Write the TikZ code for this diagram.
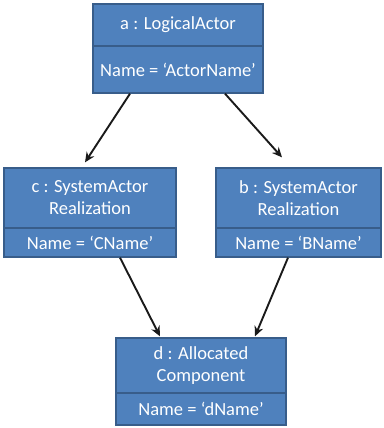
\documentclass[tikz,border=0pt]{standalone}
\usepackage{fontspec}
\setmainfont{Carlito}
\usetikzlibrary{arrows.meta}
\definecolor{boxfill}{HTML}{4F81BD}
\definecolor{boxline}{HTML}{385D8A}
\definecolor{linkcol}{HTML}{1A1A1A}
\begin{document}
\begin{tikzpicture}[x=1pt,y=-1pt,
  umlbox/.style={draw=boxline, fill=boxfill, line width=1.3pt, inner sep=0pt},
  divider/.style={draw=boxline, line width=1.3pt},
  boxtext/.style={text=white, font=\fontsize{18.5}{22}\selectfont, align=center, inner sep=0pt},
  link/.style={draw=linkcol, line width=1.9pt, -{Stealth[length=10pt,width=9pt]}}]
\useasboundingbox (0,0) rectangle (383,428);

% object boxes
\node[umlbox, minimum width=170pt, minimum height=89pt] (a) at (178,48.5) {};
\node[umlbox, minimum width=172pt, minimum height=89pt] (c) at (90,212.5) {};
\node[umlbox, minimum width=165pt, minimum height=89pt] (b) at (298.5,212.5) {};
\node[umlbox, minimum width=170pt, minimum height=87pt] (d) at (201,381.5) {};

% compartment dividers
\draw[divider] (a.west |- 0,46) -- (a.east |- 0,46);
\draw[divider] (c.west |- 0,228) -- (c.east |- 0,228);
\draw[divider] (b.west |- 0,228) -- (b.east |- 0,228);
\draw[divider] (d.west |- 0,393) -- (d.east |- 0,393);

% labels
\node[boxtext] (a-name) at (178,25) {a : LogicalActor};
\node[boxtext] (a-attr) at (178,70) {Name = ‘ActorName’};
\node[boxtext] (c-name) at (90,198) {c : SystemActor\\Realization};
\node[boxtext] (c-attr) at (90,243) {Name = ‘CName’};
\node[boxtext] (b-name) at (298.5,198) {b : SystemActor\\Realization};
\node[boxtext] (b-attr) at (298.5,243) {Name = ‘BName’};
\node[boxtext] (d-name) at (201,366) {d : Allocated\\Component};
\node[boxtext] (d-attr) at (201,409) {Name = ‘dName’};

% links
\draw[link] ([xshift=-48pt]a.south) -- ([xshift=-5pt,yshift=5pt]c.north);
\draw[link] ([xshift=47pt]a.south) -- ([xshift=-16.5pt,yshift=10pt]b.north);
\draw[link] ([xshift=30pt]c.south) -- ([xshift=-41pt,yshift=1pt]d.north);
\draw[link] ([xshift=-10.5pt]b.south) -- ([xshift=54pt,yshift=1pt]d.north);
\end{tikzpicture}
\end{document}
